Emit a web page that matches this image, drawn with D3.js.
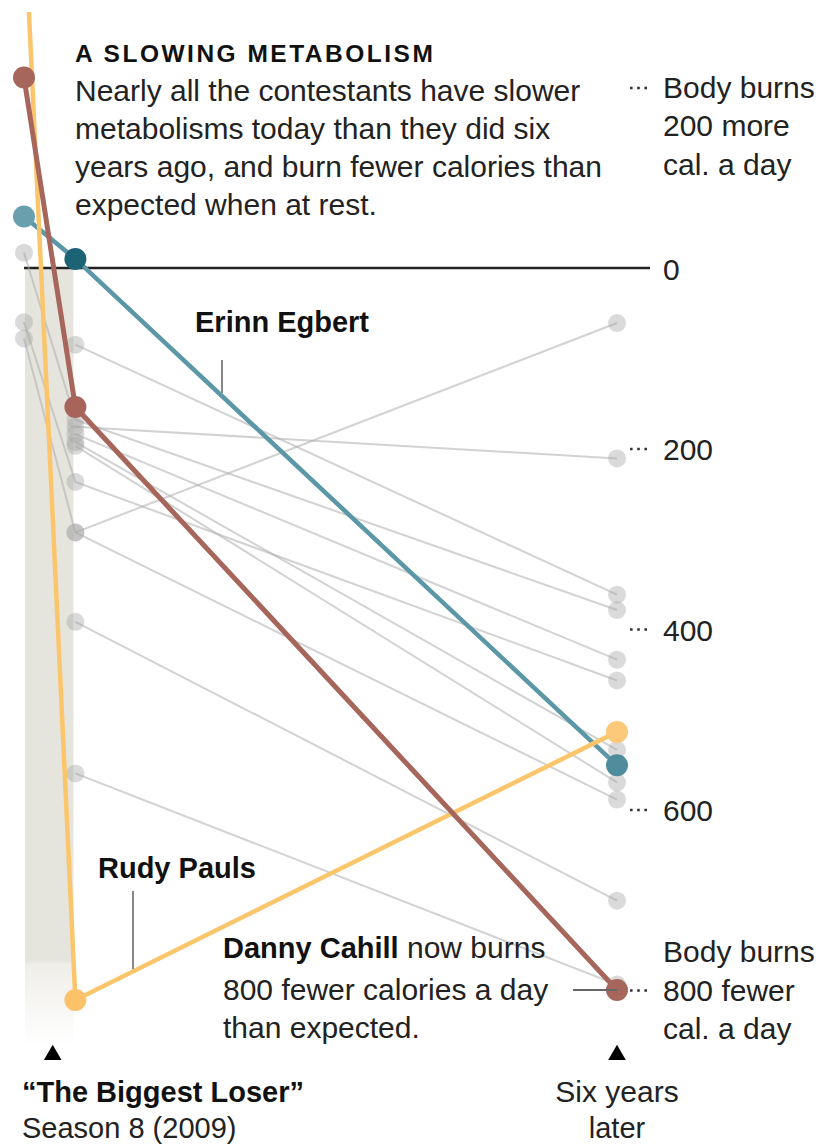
<!DOCTYPE html>
<html>
<head>
<meta charset="utf-8">
<script src="https://cdn.jsdelivr.net/npm/d3@7"></script>
<style>
  html, body { margin: 0; padding: 0; background: #fff; }
  svg { display: block; font-family: "Liberation Sans", Arial, sans-serif; }
</style>
</head>
<body>
<svg id="chart" width="819" height="1145"></svg>
<script>
// Measurement times, in years from the start of season 8
const stageYears = [0, 0.52, 6];

// Metabolic adaptation: calories a day burned below what body size predicts
// (negative = burns more than expected). null = no value shown.
const names = [
  "Contestant A", "Contestant B", "Contestant C", "Contestant D",
  "Contestant E", "Contestant F", "Contestant G", "Contestant H",
  "Contestant I", "Contestant J", "Contestant K",
  "Erinn Egbert", "Rudy Pauls", "Danny Cahill"
];
const startValues  = [null, null,  78,  -17, null,  60, null, null, null, null, null, -57, -400, -211];
const finaleValues = [  85,  176, 293,  168,  184, 237,  193,  293,  197,  392,  560, -10,  811,  154];
const laterValues  = [ 362,  211,  61,  379,  434, 457,  534,  589,  570,  701,  794, 551,  514,  800];

const highlighted = ["Erinn Egbert", "Rudy Pauls", "Danny Cahill"];
const tickValues = [-200, 0, 200, 400, 600, 800];

// Styles for the highlighted contestants
const styles = {
  "Erinn Egbert": { line: "#5b97a7", width: 4.5, dots: ["#6aa0ae", "#1d6376", "#4f8c9c"] },
  "Rudy Pauls":   { line: "#fbc56c", width: 4.5, dots: ["#fbc56c", "#fbc26a", "#fcc97a"] },
  "Danny Cahill": { line: "#a6665b", width: 5,   dots: ["#a6665b", "#a6645a", "#a6665b"] }
};

const svg = d3.select("#chart");
const x = d3.scaleLinear().domain([0, 6]).range([24, 617]);
const y = d3.scaleLinear().domain([0, 800]).range([268, 990]);

const rows = names.map((name, i) => ({
  name,
  points: [startValues[i], finaleValues[i], laterValues[i]]
    .map((v, k) => ({ t: stageYears[k], v, k }))
    .filter(p => p.v !== null)
}));

const defs = svg.append("defs");
defs.append("clipPath").attr("id", "plot-clip")
  .append("rect").attr("x", 0).attr("y", 12).attr("width", 819).attr("height", 1133);

const grad = defs.append("linearGradient").attr("id", "season-fade")
  .attr("x1", 0).attr("y1", 0).attr("x2", 0).attr("y2", 1);
grad.append("stop").attr("offset", "0").attr("stop-color", "#e6e5dd");
grad.append("stop").attr("offset", "0.89").attr("stop-color", "#e6e5dd");
grad.append("stop").attr("offset", "0.895").attr("stop-color", "#efeee9");
grad.append("stop").attr("offset", "1").attr("stop-color", "#ffffff");

// Season band
svg.append("rect")
  .attr("x", x(stageYears[0]) + 1)
  .attr("width", x(stageYears[1]) - x(stageYears[0]) - 3)
  .attr("y", y(0))
  .attr("height", 1046 - y(0))
  .attr("fill", "url(#season-fade)");

// Zero line
svg.append("line")
  .attr("x1", x(0)).attr("x2", 650)
  .attr("y1", y(0)).attr("y2", y(0))
  .attr("stroke", "#222").attr("stroke-width", 2.6);

const plot = svg.append("g").attr("clip-path", "url(#plot-clip)");
const line = d3.line().x(d => x(d.t)).y(d => y(d.v));

const grey = rows.filter(r => !highlighted.includes(r.name));
const hi = highlighted.map(n => rows.find(r => r.name === n));

plot.append("g").selectAll("path").data(grey).join("path")
  .attr("d", d => line(d.points))
  .attr("fill", "none")
  .attr("stroke", "#adadad")
  .attr("stroke-opacity", 0.55)
  .attr("stroke-width", 2);

plot.append("g").selectAll("circle")
  .data(grey.flatMap(r => r.points)).join("circle")
  .attr("cx", d => x(d.t)).attr("cy", d => y(d.v)).attr("r", 9)
  .attr("fill", "#a8a8a8").attr("fill-opacity", 0.42);

// Annotation leaders (under the dots)
svg.append("line").attr("x1", 222).attr("x2", 222).attr("y1", 360).attr("y2", 393)
  .attr("stroke", "#888").attr("stroke-width", 2);
svg.append("line").attr("x1", 133).attr("x2", 133).attr("y1", 891).attr("y2", 969)
  .attr("stroke", "#888").attr("stroke-width", 2);
svg.append("line").attr("x1", 573).attr("x2", x(6)).attr("y1", y(800)).attr("y2", y(800))
  .attr("stroke", "#666").attr("stroke-width", 2);

hi.forEach(r => {
  const s = styles[r.name];
  const g = plot.append("g");
  g.append("path").attr("d", line(r.points))
    .attr("fill", "none").attr("stroke", s.line).attr("stroke-width", s.width);
  g.selectAll("circle").data(r.points).join("circle")
    .attr("cx", d => x(d.t)).attr("cy", d => y(d.v)).attr("r", 11)
    .attr("fill", d => s.dots[d.k]);
});

// Right-hand axis
const axisX = 630;
const axis = svg.append("g").attr("transform", `translate(${axisX},0)`)
  .call(d3.axisRight(y).tickValues(tickValues).tickSize(0).tickFormat(""));
axis.select(".domain").remove();
axis.selectAll(".tick text").remove();
axis.selectAll(".tick").each(function (v) {
  const t = d3.select(this);
  if (v !== 0) {
    t.append("line").attr("x1", 0).attr("x2", 21)
      .attr("stroke", "#333").attr("stroke-width", 2.6)
      .attr("stroke-dasharray", "2.6,4.6");
  }
  const lines = v === -200 ? ["Body burns", "200 more", "cal. a day"]
    : v === 800 ? ["Body burns", "800 fewer", "cal. a day"]
    : [String(v)];
  const offset = v === 800 ? -1 : 0;
  const base = v === -200 ? 9.5 : v === 800 ? 10 : 11;
  const txt = t.append("text").attr("x", 33).attr("fill", "#222")
    .style("font-size", "30px");
  lines.forEach((s, i) => {
    txt.append("tspan").attr("x", 33).attr("y", base + (i + offset) * 38.5).text(s);
  });
});

// Headline and intro
svg.append("text").attr("x", 75).attr("y", 62)
  .style("font-size", "24.5px").style("font-weight", "bold")
  .style("letter-spacing", "2.5px").attr("fill", "#111")
  .text("A SLOWING METABOLISM");

const intro = [
  "Nearly all the contestants have slower",
  "metabolisms today than they did six",
  "years ago, and burn fewer calories than",
  "expected when at rest."
];
svg.append("g").selectAll("text").data(intro).join("text")
  .attr("x", 75).attr("y", (d, i) => 101 + i * 38)
  .style("font-size", "30px").attr("fill", "#222")
  .text(d => d);

// Name labels
svg.append("text").attr("x", 195).attr("y", 332)
  .style("font-size", "29px").style("font-weight", "bold").attr("fill", "#111")
  .text("Erinn Egbert");
svg.append("text").attr("x", 98).attr("y", 878)
  .style("font-size", "29px").style("font-weight", "bold").attr("fill", "#111")
  .text("Rudy Pauls");

const danny = svg.append("text").attr("x", 223).attr("y", 958)
  .style("font-size", "30px").attr("fill", "#222");
danny.append("tspan").style("font-weight", "bold").attr("fill", "#111")
  .style("font-size", "29px").text("Danny Cahill");
danny.append("tspan").text(" now burns");
svg.append("text").attr("x", 223).attr("y", 1000)
  .style("font-size", "30px").attr("fill", "#222").text("800 fewer calories a day");
svg.append("text").attr("x", 223).attr("y", 1038)
  .style("font-size", "30px").attr("fill", "#222").text("than expected.");

// Stage markers
const tri = d3.symbol().type(d3.symbolTriangle).size(135);
[[ (x(stageYears[0]) + x(stageYears[1])) / 2 + 3, 1055 ], [ x(6), 1055 ]].forEach(([cx, cy]) => {
  svg.append("path").attr("d", tri()).attr("transform", `translate(${cx},${cy})`).attr("fill", "#000");
});

svg.append("text").attr("x", 22).attr("y", 1102)
  .style("font-size", "29px").style("font-weight", "bold").attr("fill", "#111")
  .text("\u201CThe Biggest Loser\u201D");
svg.append("text").attr("x", 22).attr("y", 1138)
  .style("font-size", "29px").attr("fill", "#222").text("Season 8 (2009)");
svg.append("text").attr("x", x(6)).attr("y", 1102).attr("text-anchor", "middle")
  .style("font-size", "30px").attr("fill", "#222").text("Six years");
svg.append("text").attr("x", x(6)).attr("y", 1138).attr("text-anchor", "middle")
  .style("font-size", "29px").attr("fill", "#222").text("later");
</script>
</body>
</html>
